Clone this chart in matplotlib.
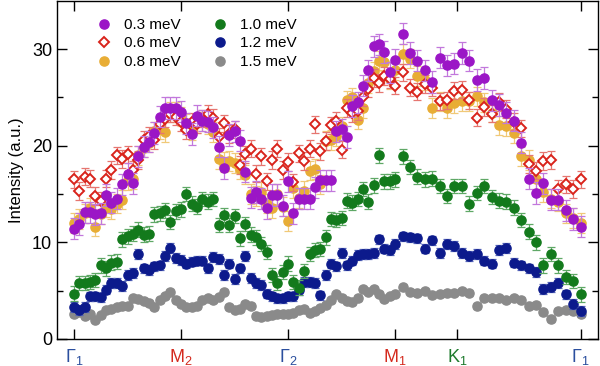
import numpy as np
import matplotlib
matplotlib.use('Agg')
import matplotlib.pyplot as plt

plt.rcParams['font.family'] = ['Liberation Sans', 'DejaVu Sans']
plt.rcParams['mathtext.fontset'] = 'custom'
plt.rcParams['mathtext.rm'] = 'Liberation Sans'
plt.rcParams['mathtext.it'] = 'Liberation Sans'

# momentum path Gamma1 - M2 - Gamma2 - M1 - K1 - Gamma1 (units of |Gamma M|)
k_ticks = [0.0, 1.0, 2.0, 3.0, 3.0 + 1 / np.sqrt(3), 3.0 + np.sqrt(3)]
k_labels = [r'$\mathrm{\Gamma}_1$', r'M$_2$', r'$\mathrm{\Gamma}_2$', r'M$_1$', r'K$_1$',
            r'$\mathrm{\Gamma}_1$']
k_colors = ['#2b4f9e', '#d42a1e', '#2b4f9e', '#d42a1e', '#1d7a2c', '#2b4f9e']

k = np.concatenate([np.linspace(0, 3, 61), np.linspace(3, 3 + np.sqrt(3), 26)[1:]])

i_03 = [11.4, 11.9, 13.1, 13.1, 12.9, 13.0, 14.9, 14.1, 14.5, 16.0, 17.1, 16.1, 18.9, 19.9,
        20.4, 21.3, 23.0, 23.9, 23.9, 23.9, 23.5, 22.3, 21.2, 23.1, 22.6, 22.5, 21.9, 19.9,
        17.7, 21.1, 21.5, 20.5, 17.3, 14.6, 15.2, 14.5, 13.5, 14.9, 14.9, 13.8, 16.3, 13.0,
        14.5, 14.5, 14.5, 15.7, 16.4, 16.4, 16.4, 21.5, 21.7, 20.9, 24.1, 24.5, 26.2, 27.8,
        30.3, 30.5, 29.7, 27.6, 28.9, 31.6, 29.6, 28.8, 27.8, 26.6, 29.1, 28.3, 28.5, 29.6,
        28.8, 26.8, 27.0, 24.7, 24.2, 23.4, 22.6, 20.3, 16.6, 15.1, 16.1, 14.4, 14.4, 13.3,
        12.4, 11.6]
i_06 = [16.5, 15.3, 16.8, 16.6, 14.8, 14.3, 16.6, 17.5, 19.0, 18.6, 19.1, 17.5, 18.5, 20.6,
        21.0, 20.6, 22.2, 22.8, 23.3, 23.0, 22.4, 21.6, 22.5, 22.2, 22.8, 23.3, 22.9, 20.9,
        22.3, 21.2, 21.7, 18.0, 19.1, 19.7, 17.1, 18.9, 16.3, 18.5, 19.7, 17.5, 18.3, 16.2,
        19.2, 18.4, 19.7, 22.2, 19.4, 20.5, 22.1, 22.6, 19.6, 23.9, 23.4, 23.6, 25.0, 25.9,
        27.0, 26.5, 27.2, 26.9, 26.2, 27.6, 26.0, 25.6, 26.4, 26.0, 24.6, 24.7, 25.7, 25.8,
        24.7, 22.9, 24.0, 23.3, 24.5, 23.8, 22.5, 21.8, 18.1, 17.4, 18.4, 18.5, 15.5, 16.0,
        15.5, 16.5]
i_08 = [12.0, 12.4, 13.0, 13.6, 11.6, 12.9, 13.6, 13.4, 14.0, 14.4, 16.4, 16.5, 19.0, 19.8,
        20.3, 21.5, 21.7, 21.4, 23.5, 23.5, 23.0, 22.3, 21.6, 22.3, 22.5, 22.2, 21.4, 18.6,
        18.3, 18.4, 18.2, 17.6, 17.0, 15.0, 14.8, 15.2, 14.0, 13.5, 15.0, 13.7, 12.2, 15.6,
        14.6, 15.3, 17.4, 17.6, 16.0, 20.5, 20.6, 21.0, 22.0, 24.7, 25.0, 22.7, 23.9, 26.5,
        27.7, 28.8, 28.7, 26.9, 27.8, 29.5, 29.0, 27.2, 26.8, 23.9, 24.6, 23.9, 24.4, 24.6,
        24.6, 25.1, 24.5, 23.4, 22.1, 22.0, 21.3, 18.9, 18.5, 16.5, 15.2, 14.5, 14.2, 13.0,
        12.5, 12.0]
i_10 = [4.7, 5.8, 5.8, 5.9, 6.1, 7.6, 7.3, 7.9, 8.0, 10.3, 10.6, 10.9, 11.3, 10.8, 10.9,
        12.9, 13.0, 13.3, 12.1, 13.2, 13.4, 15.0, 14.0, 13.7, 14.5, 14.2, 14.5, 11.8, 12.8,
        11.8, 12.7, 10.4, 11.9, 10.8, 10.5, 9.8, 9.0, 6.6, 5.8, 6.9, 7.8, 5.9, 5.3, 7.05,
        8.8, 9.2, 9.3, 10.5, 12.4, 12.3, 12.5, 14.3, 14.1, 14.5, 15.5, 14.2, 15.9, 19.0,
        16.3, 16.3, 16.5, 18.9, 17.8, 16.8, 16.5, 16.6, 15.8, 14.8, 15.8, 15.8, 14.0, 15.1,
        15.8, 14.7, 14.3, 14.2, 13.6, 12.3, 11.1, 10.0, 7.6, 8.8, 7.6, 6.4, 6.0, 4.6]
i_12 = [3.3, 3.0, 3.3, 4.4, 4.4, 4.3, 5.1, 5.8, 5.8, 5.5, 6.6, 6.8, 8.8, 7.3, 7.1, 7.5,
        7.6, 8.6, 9.4, 8.4, 8.2, 7.8, 8.0, 8.1, 8.1, 7.3, 8.5, 8.25, 6.6, 7.8, 6.2, 7.3,
        8.6, 6.3, 5.8, 5.6, 4.7, 4.4, 4.2, 4.2, 4.4, 4.4, 5.05, 5.9, 5.9, 5.8, 4.5, 6.6,
        7.8, 7.5, 8.9, 7.6, 8.1, 8.7, 8.8, 8.8, 8.9, 10.3, 9.35, 9.2, 9.8, 10.6, 10.5, 10.4,
        9.35, 10.2, 8.9, 9.8, 9.6, 8.9, 8.55, 8.8, 8.1, 7.8, 9.2, 9.4, 7.9, 7.6, 7.3, 6.9,
        5.2, 5.4, 5.8, 4.6, 3.6, 2.9]
i_15 = [2.6, 2.8, 2.4, 2.6, 2.0, 2.5, 3.0, 3.1, 3.3, 3.4, 3.4, 4.2, 4.1, 3.9, 3.7, 3.3,
        4.0, 4.4, 4.9, 4.0, 3.6, 3.3, 3.3, 3.4, 4.0, 4.2, 4.0, 4.3, 4.9, 3.3, 3.0, 3.1, 3.6,
        3.4, 2.4, 2.3, 2.4, 2.5, 2.6, 2.6, 2.6, 2.7, 3.0, 3.1, 2.7, 2.9, 3.2, 3.5, 4.05, 4.6,
        4.2, 3.9, 3.8, 4.2, 5.15, 4.9, 5.15, 4.7, 4.1, 4.4, 4.6, 5.4, 4.9, 4.74, 5.0, 4.57,
        4.67, 4.74, 4.74, 5.0, 4.74, 3.44, 4.23, 4.23, 4.23, 4.05, 4.23, 4.0, 3.44, 3.5,
        2.75, 2.06, 2.85, 2.96, 2.85, 2.58]

# typical error bar half-heights per energy
e_03, e_06, e_08, e_10, e_12, e_15 = 1.1, 0.9, 1.0, 0.75, 0.5, 0.3


def main():
    fig = plt.figure(figsize=(6.0, 3.66), dpi=100)
    ax = fig.add_axes([0.095, 0.074, 0.902, 0.924])

    series = [
        (i_15, e_15, '1.5 meV', '#8a8a8a', '#b5b5b5', 'o', True),
        (i_12, e_12, '1.2 meV', '#0c1a8c', '#5363b8', 'o', True),
        (i_10, e_10, '1.0 meV', '#137a1c', '#5fa866', 'o', True),
        (i_08, e_08, '0.8 meV', '#e8ad35', '#f0c978', 'o', True),
        (i_06, e_06, '0.6 meV', '#d9231b', '#e67670', 'D', False),
        (i_03, e_03, '0.3 meV', '#9b16c6', '#c278dc', 'o', True),
    ]
    handles = {}
    for y, e, lab, c, ec, m, filled in series:
        ax.errorbar(k, y, yerr=e, fmt='none', ecolor=ec, elinewidth=0.9,
                    capsize=2.8, capthick=0.9)
        if filled:
            h, = ax.plot(k, y, m, ms=6.6, color=c, mec=c, ls='none', label=lab)
        else:
            h, = ax.plot(k, y, m, ms=5.4, mfc='white', mec=c, mew=1.4,
                         ls='none', label=lab)
        handles[lab] = h

    order = ['0.3 meV', '0.6 meV', '0.8 meV', '1.0 meV', '1.2 meV', '1.5 meV']
    ax.legend([handles[o] for o in order], order, ncol=2, loc='upper left',
              bbox_to_anchor=(0.045, 0.99), frameon=False, fontsize=11,
              handletextpad=0.7, columnspacing=2.0, labelspacing=0.3,
              handlelength=1.2)

    ax.set_xlim(-0.159, 4.897)
    ax.set_ylim(0, 35)
    ax.set_yticks([0, 10, 20, 30])
    ax.set_yticks([5, 15, 25], minor=True)
    ax.set_xticks(k_ticks)
    ax.set_xticklabels(k_labels)
    for lab, col in zip(ax.get_xticklabels(), k_colors):
        lab.set_color(col)
    ax.tick_params(axis='both', which='both', direction='in', top=True, right=True,
                   width=1.0)
    ax.tick_params(axis='both', which='major', length=7, labelsize=13)
    ax.tick_params(axis='y', which='minor', length=4)
    ax.tick_params(axis='x', pad=6)
    for s in ax.spines.values():
        s.set_linewidth(1.0)
    ax.set_ylabel('Intensity (a.u.)', fontsize=12, labelpad=6)

    plt.savefig('out.png', dpi=100)


if __name__ == '__main__':
    main()
